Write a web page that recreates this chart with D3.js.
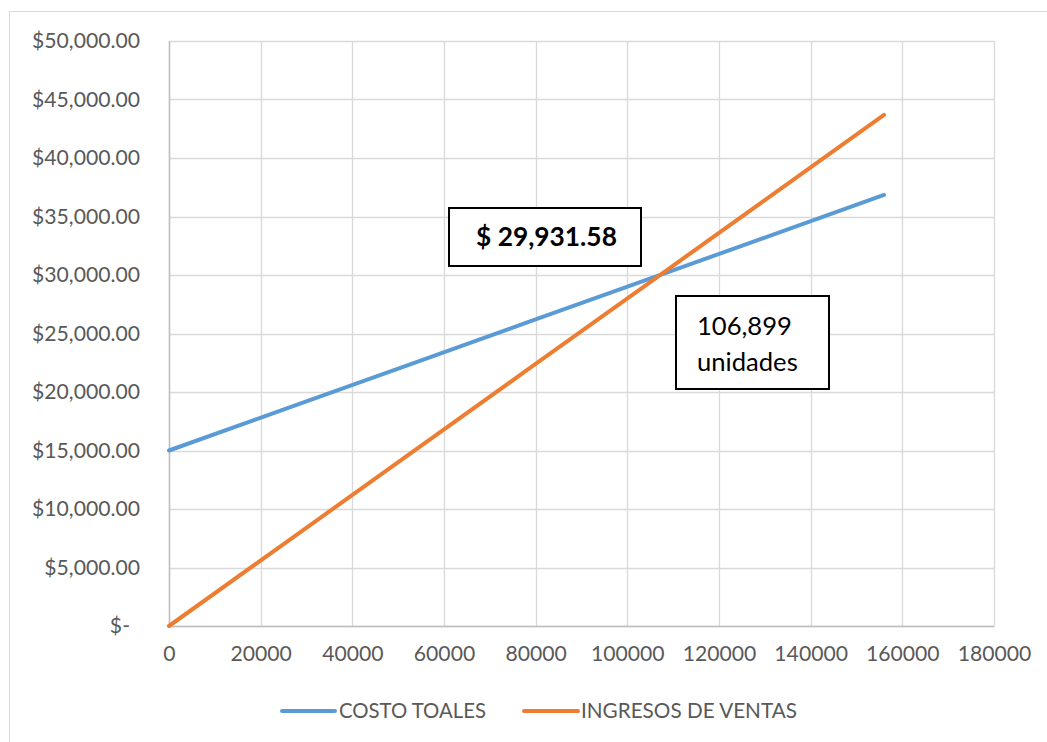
<!DOCTYPE html>
<html>
<head>
<meta charset="utf-8">
<script src="https://cdn.jsdelivr.net/npm/d3@7"></script>
<style>
  html, body { margin: 0; padding: 0; background: #fff; }
  svg { display: block; font-family: Lato, "Open Sans", sans-serif; }
</style>
</head>
<body>
<svg id="chart" width="1047" height="742"></svg>
<script>
// ---- data ----
const units = [0, 26000, 52000, 78000, 104000, 130000, 156000];
const costoTotales = [15000, 18640, 22280, 25920, 29560, 33200, 36840];
const ingresosVentas = [0, 7280, 14560, 21840, 29120, 36400, 43680];
const seriesNames = ["COSTO TOALES", "INGRESOS DE VENTAS"];
const xTicks = [0, 20000, 40000, 60000, 80000, 100000, 120000, 140000, 160000, 180000];
const yTicks = [0, 5000, 10000, 15000, 20000, 25000, 30000, 35000, 40000, 45000, 50000];
const breakEvenValue = "$ 29,931.58";
const breakEvenUnits = ["106,899", "unidades"];

// ---- layout ----
const svg = d3.select("#chart");
const W = 1047, H = 742;
const plot = { left: 169, right: 994, top: 41, bottom: 626 };
const colors = ["#5b9bd5", "#ed7d31"];
const textColor = "#595959";
const fontFam = 'Lato, "Open Sans", sans-serif';

svg.append("rect").attr("x", 9.5).attr("y", 11.5).attr("width", W).attr("height", H)
  .attr("fill", "#fff").attr("stroke", "#d9d9d9").attr("stroke-width", 1);

const x = d3.scaleLinear().domain([0, 180000]).range([plot.left, plot.right]);
const y = d3.scaleLinear().domain([0, 50000]).range([plot.bottom, plot.top]);

// helper: fit text to width
function fit(t, w) {
  const len = t.node().getComputedTextLength();
  const fs = parseFloat(t.style("font-size"));
  const nfs = fs * w / len;
  t.style("font-size", nfs + "px");
  return nfs;
}

// gridlines
const grid = svg.append("g");
grid.selectAll("line.v").data(xTicks).join("line")
  .attr("x1", d => Math.round(x(d)) + 0.5).attr("x2", d => Math.round(x(d)) + 0.5)
  .attr("y1", plot.top).attr("y2", plot.bottom)
  .attr("stroke", "#d9d9d9").attr("stroke-width", 1.3);
grid.selectAll("line.h").data(yTicks).join("line")
  .attr("x1", plot.left).attr("x2", plot.right)
  .attr("y1", d => Math.round(y(d)) + 0.5).attr("y2", d => Math.round(y(d)) + 0.5)
  .attr("stroke", "#d9d9d9").attr("stroke-width", 1.3);

// axes
const yFmt = d => d === 0 ? "$-" : "$" + d3.format(",.2f")(d);
const yAxis = d3.axisLeft(y).tickValues(yTicks).tickFormat(yFmt).tickSize(0).tickPadding(29);
const gy = svg.append("g").attr("transform", `translate(${plot.left},0)`).call(yAxis)
  .attr("font-family", fontFam).attr("font-size", null);
gy.select(".domain").attr("stroke", "#bfbfbf").attr("stroke-width", 1.5);
gy.selectAll("text").attr("fill", textColor).style("font-size", "18px")
  .attr("dx", d => d === 0 ? -10 : 0);
const topLabel = gy.selectAll("text").filter(d => d === 50000);
const tickFs = fit(topLabel, 108);
gy.selectAll("text").style("font-size", tickFs + "px");

const xAxis = d3.axisBottom(x).tickValues(xTicks).tickFormat(d3.format("d")).tickSize(0).tickPadding(20);
const gx = svg.append("g").attr("transform", `translate(0,${plot.bottom})`).call(xAxis)
  .attr("font-family", fontFam).attr("font-size", null);
gx.select(".domain").attr("stroke", "#bfbfbf").attr("stroke-width", 1.5);
gx.selectAll("text").attr("fill", textColor).style("font-size", tickFs + "px");

// lines
const rows = units.map((u, i) => ({ u, c: costoTotales[i], r: ingresosVentas[i] }));
const lineC = d3.line().x(d => x(d.u)).y(d => y(d.c));
const lineR = d3.line().x(d => x(d.u)).y(d => y(d.r));
svg.append("path").datum(rows).attr("d", lineC).attr("fill", "none")
  .attr("stroke", colors[0]).attr("stroke-width", 4).attr("stroke-linecap", "round").attr("stroke-linejoin", "round");
svg.append("path").datum(rows).attr("d", lineR).attr("fill", "none")
  .attr("stroke", colors[1]).attr("stroke-width", 4).attr("stroke-linecap", "round").attr("stroke-linejoin", "round");

// annotation boxes
const b1 = { x: 449, y: 208, w: 192, h: 58 };
svg.append("rect").attr("x", b1.x).attr("y", b1.y).attr("width", b1.w).attr("height", b1.h)
  .attr("fill", "#fff").attr("stroke", "#000").attr("stroke-width", 2);
const t1 = svg.append("text").attr("x", 476).attr("y", 246).text(breakEvenValue)
  .attr("fill", "#000").style("font-weight", "bold").style("font-size", "22px");
fit(t1, 141);

const b2 = { x: 676, y: 296, w: 153, h: 93 };
svg.append("rect").attr("x", b2.x).attr("y", b2.y).attr("width", b2.w).attr("height", b2.h)
  .attr("fill", "#fff").attr("stroke", "#000").attr("stroke-width", 2);
const t2a = svg.append("text").attr("x", 697).attr("y", 335).text(breakEvenUnits[0])
  .attr("fill", "#000").style("font-size", "22px");
fit(t2a, 95);
const t2b = svg.append("text").attr("x", 697).attr("y", 371).text(breakEvenUnits[1])
  .attr("fill", "#000").style("font-size", t2a.style("font-size"));

// legend
const legend = [
  { name: seriesNames[0], color: colors[0], x1: 282, x2: 335, tx: 339, tw: 147 },
  { name: seriesNames[1], color: colors[1], x1: 524, x2: 578, tx: 581, tw: 216 }
];
const lg = svg.append("g");
legend.forEach(l => {
  lg.append("line").attr("x1", l.x1).attr("x2", l.x2).attr("y1", 711).attr("y2", 711)
    .attr("stroke", l.color).attr("stroke-width", 4).attr("stroke-linecap", "round");
  const t = lg.append("text").attr("x", l.tx).attr("y", 711).attr("dy", "0.35em")
    .text(l.name).attr("fill", textColor).style("font-size", "17px");
  fit(t, l.tw);
});
</script>
</body>
</html>
